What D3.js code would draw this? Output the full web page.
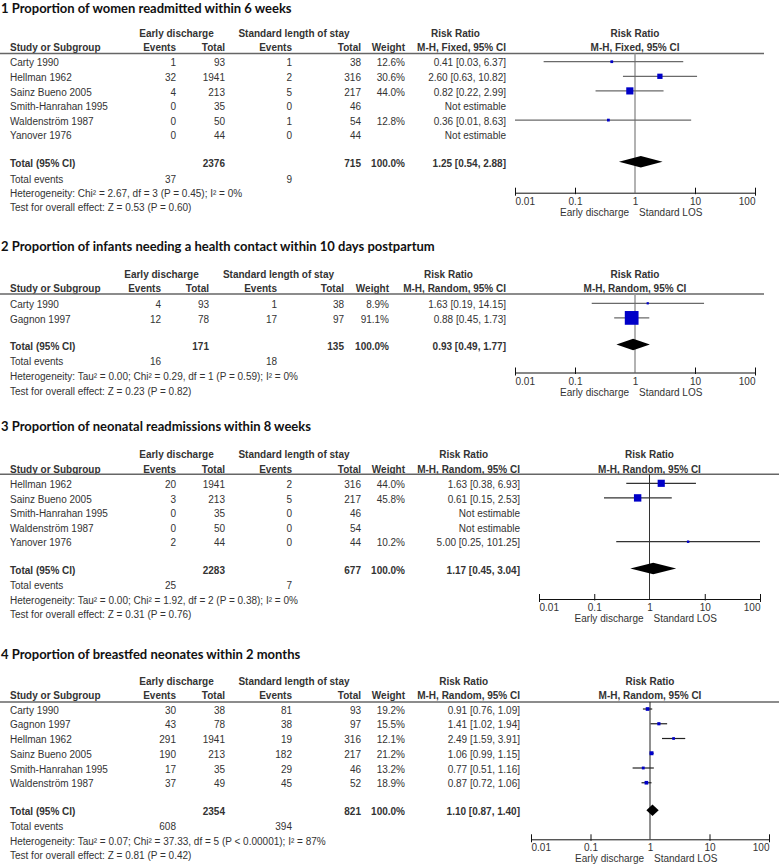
<!DOCTYPE html>
<html>
<head>
<meta charset="utf-8">
<script src="https://cdn.jsdelivr.net/npm/d3@7"></script>
<style>
body { margin: 0; background: #fff; }
svg text { font-family: "Liberation Sans", Arial, sans-serif; font-size: 10px; fill: #333; }
svg text.title { font-family: Lato, "Open Sans", sans-serif; font-weight: bold; font-size: 13px; fill: #111; }
svg text.b { font-weight: bold; }
</style>
</head>
<body>
<svg id="chart" width="779" height="867"></svg>
<script>
// 1 women readmitted within 6 weeks
var studies1 = ["Carty 1990", "Hellman 1962", "Sainz Bueno 2005", "Smith-Hanrahan 1995", "Waldenström 1987", "Yanover 1976"];
var eventsE1 = [1, 32, 4, 0, 0, 0];
var totalE1 = [93, 1941, 213, 35, 50, 44];
var eventsC1 = [1, 2, 5, 0, 1, 0];
var totalC1 = [38, 316, 217, 46, 54, 44];
var weight1 = [12.6, 30.6, 44.0, null, 12.8, null];
var rr1 = [0.41, 2.60, 0.82, null, 0.36, null];
var lo1 = [0.03, 0.63, 0.22, null, 0.01, null];
var hi1 = [6.37, 10.82, 2.99, null, 8.63, null];
var total1 = { e: 2376, c: 715, evE: 37, evC: 9, rr: 1.25, lo: 0.54, hi: 2.88 };

// 2 infants needing a health contact within 10 days
var studies2 = ["Carty 1990", "Gagnon 1997"];
var eventsE2 = [4, 12];
var totalE2 = [93, 78];
var eventsC2 = [1, 17];
var totalC2 = [38, 97];
var weight2 = [8.9, 91.1];
var rr2 = [1.63, 0.88];
var lo2 = [0.19, 0.45];
var hi2 = [14.15, 1.73];
var total2 = { e: 171, c: 135, evE: 16, evC: 18, rr: 0.93, lo: 0.49, hi: 1.77 };

// 3 neonatal readmissions within 8 weeks
var studies3 = ["Hellman 1962", "Sainz Bueno 2005", "Smith-Hanrahan 1995", "Waldenström 1987", "Yanover 1976"];
var eventsE3 = [20, 3, 0, 0, 2];
var totalE3 = [1941, 213, 35, 50, 44];
var eventsC3 = [2, 5, 0, 0, 0];
var totalC3 = [316, 217, 46, 54, 44];
var weight3 = [44.0, 45.8, null, null, 10.2];
var rr3 = [1.63, 0.61, null, null, 5.00];
var lo3 = [0.38, 0.15, null, null, 0.25];
var hi3 = [6.93, 2.53, null, null, 101.25];
var total3 = { e: 2283, c: 677, evE: 25, evC: 7, rr: 1.17, lo: 0.45, hi: 3.04 };

// 4 breastfed neonates within 2 months
var studies4 = ["Carty 1990", "Gagnon 1997", "Hellman 1962", "Sainz Bueno 2005", "Smith-Hanrahan 1995", "Waldenström 1987"];
var eventsE4 = [30, 43, 291, 190, 17, 37];
var totalE4 = [38, 78, 1941, 213, 35, 49];
var eventsC4 = [81, 38, 19, 182, 29, 45];
var totalC4 = [93, 97, 316, 217, 46, 52];
var weight4 = [19.2, 15.5, 12.1, 21.2, 13.2, 18.9];
var rr4 = [0.91, 1.41, 2.49, 1.06, 0.77, 0.87];
var lo4 = [0.76, 1.02, 1.59, 0.99, 0.51, 0.72];
var hi4 = [1.09, 1.94, 3.91, 1.15, 1.16, 1.06];
var total4 = { e: 2354, c: 821, evE: 608, evC: 394, rr: 1.10, lo: 0.87, hi: 1.40 };

var titles = [
  "1 Proportion of women readmitted within 6 weeks",
  "2 Proportion of infants needing a health contact within 10 days postpartum",
  "3 Proportion of neonatal readmissions within 8 weeks",
  "4 Proportion of breastfed neonates within 2 months"
];
var methods = ["M-H, Fixed, 95% CI", "M-H, Random, 95% CI", "M-H, Random, 95% CI", "M-H, Random, 95% CI"];
var hetText = [
  "Heterogeneity: Chi² = 2.67, df = 3 (P = 0.45); I² = 0%",
  "Heterogeneity: Tau² = 0.00; Chi² = 0.29, df = 1 (P = 0.59); I² = 0%",
  "Heterogeneity: Tau² = 0.00; Chi² = 1.92, df = 2 (P = 0.38); I² = 0%",
  "Heterogeneity: Tau² = 0.07; Chi² = 37.33, df = 5 (P < 0.00001); I² = 87%"
];
var testText = [
  "Test for overall effect: Z = 0.53 (P = 0.60)",
  "Test for overall effect: Z = 0.23 (P = 0.82)",
  "Test for overall effect: Z = 0.31 (P = 0.76)",
  "Test for overall effect: Z = 0.81 (P = 0.42)"
];
var tickVals = [0.01, 0.1, 1, 10, 100];
var tickLabels = ["0.01", "0.1", "1", "10", "100"];

var panels = [
  { studies: studies1, evE: eventsE1, totE: totalE1, evC: eventsC1, totC: totalC1, w: weight1, rr: rr1, lo: lo1, hi: hi1, tot: total1 },
  { studies: studies2, evE: eventsE2, totE: totalE2, evC: eventsC2, totC: totalC2, w: weight2, rr: rr2, lo: lo2, hi: hi2, tot: total2 },
  { studies: studies3, evE: eventsE3, totE: totalE3, evC: eventsC3, totC: totalC3, w: weight3, rr: rr3, lo: lo3, hi: hi3, tot: total3 },
  { studies: studies4, evE: eventsE4, totE: totalE4, evC: eventsC4, totC: totalC4, w: weight4, rr: rr4, lo: lo4, hi: hi4, tot: total4 }
];

// layout (text centres in px)
var colsA = { evE: 176, totE: 225, evC: 292, totC: 361, wt: 405, grpE: 176.5, grpC: 294 };
var colsB = { evE: 161, totE: 209, evC: 277, totC: 344, wt: 389, grpE: 161.5, grpC: 278.5 };
var layouts = [
  { title: 13, group: 33, head: 47, line: 53.5, row0: 62.7, step: 14.6, total: 163.3, events: 179, het: 193.3, test: 207.7,
    axis: 192.7, plot: [515, 755], est: 506, rrHead: 455.5, lineEnd: 764, cols: colsA, ci: "#6a6a6a", vl: "#999", vlw: 1.5 },
  { title: 250.5, group: 274, head: 288, line: 294, row0: 304.3, step: 14.6, total: 346, events: 361.7, het: 376.7, test: 391,
    axis: 372.5, plot: [515, 755], est: 506, rrHead: 448.5, lineEnd: 764, cols: colsB, ci: "#6a6a6a", vl: "#999", vlw: 1.5 },
  { title: 430.5, group: 454.3, head: 469, line: 474.3, row0: 484.3, step: 14.6, total: 570, events: 585.7, het: 600, test: 614.3,
    axis: 599, plot: [539, 760], est: 520, rrHead: 463.7, lineEnd: 779, cols: colsA, ci: "#333", vl: "#333", vlw: 1 },
  { title: 659, group: 681.7, head: 695.7, line: 702, row0: 710, step: 14.75, total: 811.7, events: 826.7, het: 841.3, test: 855.7,
    axis: 839.3, plot: [531, 769], est: 520, rrHead: 463.7, lineEnd: 779, cols: colsA, ci: "#222", vl: "#222", vlw: 1 }
];

var svg = d3.select("#chart");
var box = d3.scaleLinear().domain([0, 100]).range([1, 15]);
var f2 = d3.format(".2f");

function txt(g, x, yc, s, anchor, bold) {
  return g.append("text").attr("x", x).attr("y", yc + 3.6)
    .attr("text-anchor", anchor || "start").classed("b", !!bold).text(s);
}
function ciText(rr, lo, hi) { return f2(rr) + " [" + f2(lo) + ", " + f2(hi) + "]"; }

panels.forEach(function(p, k) {
  var L = layouts[k], C = L.cols;
  var g = svg.append("g");
  var x = d3.scaleLog().domain([0.01, 100]).range(L.plot);
  var xc = function(v) { return x(Math.max(0.01, Math.min(100, v))); };
  var rowY = function(i) { return L.row0 + i * L.step; };
  var mid = x(1);

  g.append("text").attr("class", "title").attr("x", 1).attr("y", L.title).text(titles[k]);

  txt(g, C.grpE, L.group, "Early discharge", "middle", true);
  txt(g, C.grpC, L.group, "Standard length of stay", "middle", true);
  txt(g, L.rrHead, L.group, "Risk Ratio", "middle", true);
  txt(g, mid, L.group, "Risk Ratio", "middle", true);

  txt(g, 10, L.head, "Study or Subgroup", "start", true);
  txt(g, C.evE, L.head, "Events", "end", true);
  txt(g, C.totE, L.head, "Total", "end", true);
  txt(g, C.evC, L.head, "Events", "end", true);
  txt(g, C.totC, L.head, "Total", "end", true);
  txt(g, C.wt, L.head, "Weight", "end", true);
  txt(g, L.est, L.head, methods[k], "end", true);
  txt(g, mid, L.head, methods[k], "middle", true);

  g.append("line").attr("x1", 0).attr("x2", L.lineEnd).attr("y1", L.line).attr("y2", L.line)
    .attr("stroke", "#666").attr("stroke-width", 1.5);

  // line of no effect
  g.append("line").attr("x1", mid).attr("x2", mid).attr("y1", L.line).attr("y2", L.axis)
    .attr("stroke", L.vl).attr("stroke-width", L.vlw);

  p.studies.forEach(function(s, i) {
    var y = rowY(i);
    txt(g, 10, y, s);
    txt(g, C.evE, y, p.evE[i], "end");
    txt(g, C.totE, y, p.totE[i], "end");
    txt(g, C.evC, y, p.evC[i], "end");
    txt(g, C.totC, y, p.totC[i], "end");
    if (p.rr[i] == null) {
      txt(g, L.est, y, "Not estimable", "end");
      return;
    }
    txt(g, C.wt, y, p.w[i].toFixed(1) + "%", "end");
    txt(g, L.est, y, ciText(p.rr[i], p.lo[i], p.hi[i]), "end");
    g.append("line").attr("x1", xc(p.lo[i])).attr("x2", xc(p.hi[i]))
      .attr("y1", y - 1).attr("y2", y - 1).attr("stroke", L.ci).attr("stroke-width", 1.2);
    var sz = box(p.w[i]);
    g.append("rect").attr("x", x(p.rr[i]) - sz / 2).attr("y", y - 1 - sz / 2)
      .attr("width", sz).attr("height", sz).attr("fill", "#0000c8");
  });

  var t = p.tot;
  txt(g, 10, L.total, "Total (95% CI)", "start", true);
  txt(g, C.totE, L.total, t.e, "end", true);
  txt(g, C.totC, L.total, t.c, "end", true);
  txt(g, C.wt, L.total, "100.0%", "end", true);
  txt(g, L.est, L.total, ciText(t.rr, t.lo, t.hi), "end", true);
  var dy = L.total - 1.5;
  g.append("polygon")
    .attr("points", [[x(t.lo), dy], [x(t.rr), dy - 5.8], [x(t.hi), dy], [x(t.rr), dy + 5.8]].join(" "))
    .attr("fill", "#000");

  txt(g, 10, L.events, "Total events");
  txt(g, C.evE, L.events, t.evE, "end");
  txt(g, C.evC, L.events, t.evC, "end");
  txt(g, 10, L.het, hetText[k]);
  txt(g, 10, L.test, testText[k]);

  var ax = g.append("g").attr("transform", "translate(0," + L.axis + ")")
    .call(d3.axisBottom(x).tickValues(tickVals).tickFormat(function(d, i) { return tickLabels[i]; })
      .tickSizeInner(-5).tickSizeOuter(0).tickPadding(5));
  ax.select(".domain").attr("stroke", "#111");
  ax.selectAll(".tick line").attr("y1", function(d, i) { return (i === 0 || i === 4) ? 3 : 1.5; })
    .attr("stroke", "#111");
  ax.selectAll(".tick").filter(function(d) { return d === 1; }).select("line").remove();
  ax.selectAll(".tick text").attr("text-anchor", function(d, i) { return i === 0 ? "start" : (i === 4 ? "end" : "middle"); });

  txt(g, mid - 6, L.axis + 19.5, "Early discharge", "end");
  txt(g, mid + 4, L.axis + 19.5, "Standard LOS", "start");
});
</script>
</body>
</html>
